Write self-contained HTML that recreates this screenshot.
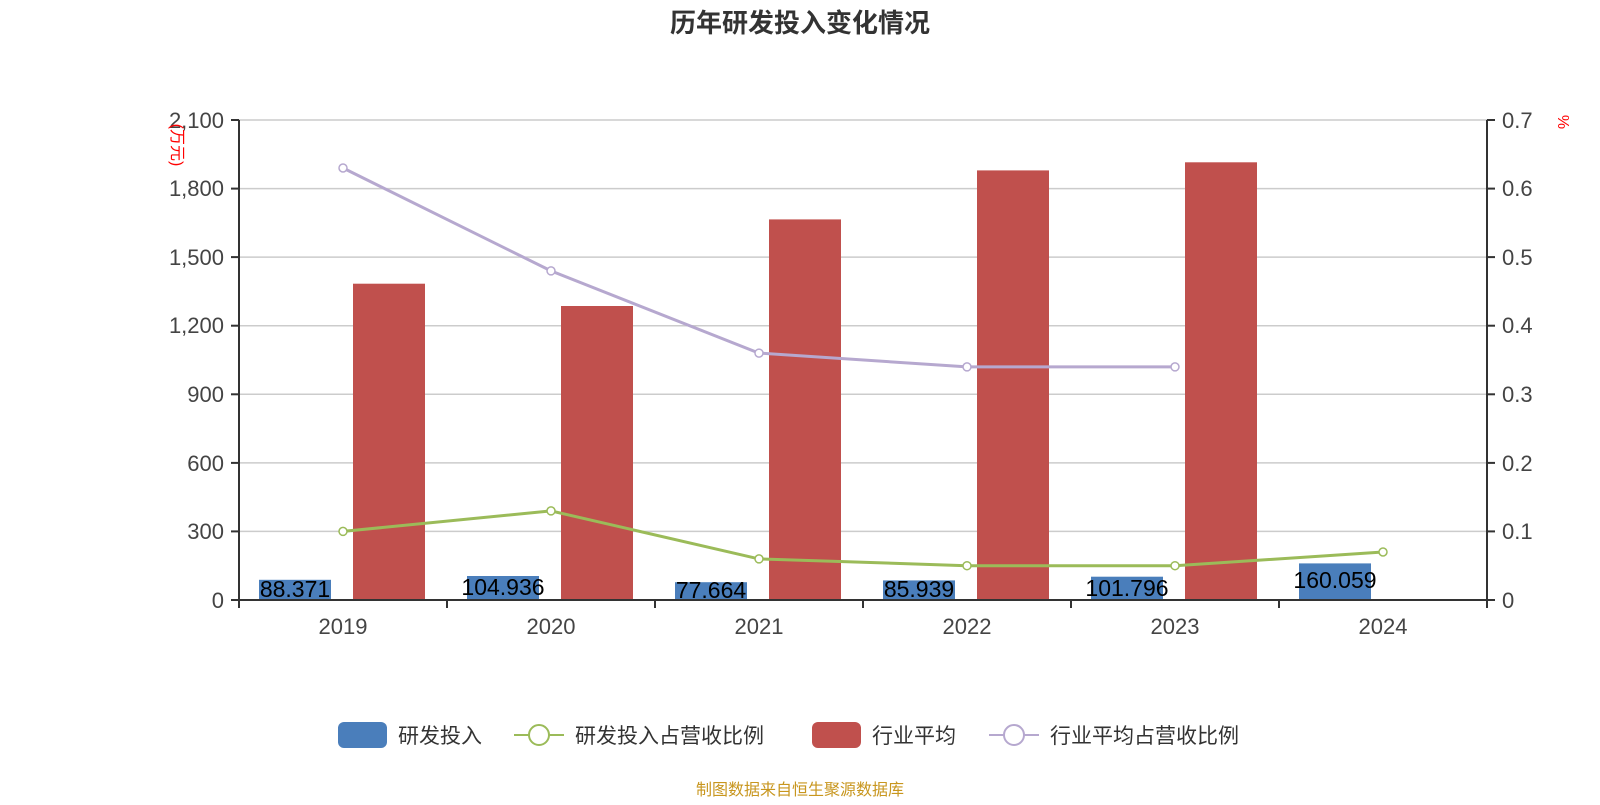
<!DOCTYPE html>
<html><head><meta charset="utf-8"><style>
body{margin:0;background:#fff;}
text{font-family:"Liberation Sans","Noto Sans CJK SC",sans-serif;}
</style></head><body>
<svg width="1600" height="800" xmlns="http://www.w3.org/2000/svg">
<text x="800" y="32" text-anchor="middle" font-size="26" font-weight="bold" fill="#333">历年研发投入变化情况</text>
<g stroke="#ccc" stroke-width="1.5">
<line x1="239" x2="1487" y1="120" y2="120"/><line x1="239" x2="1487" y1="188.6" y2="188.6"/>
<line x1="239" x2="1487" y1="257.1" y2="257.1"/><line x1="239" x2="1487" y1="325.7" y2="325.7"/>
<line x1="239" x2="1487" y1="394.3" y2="394.3"/><line x1="239" x2="1487" y1="462.9" y2="462.9"/>
<line x1="239" x2="1487" y1="531.4" y2="531.4"/>
</g>
<g fill="#4a7ebb">
<rect x="259" y="579.8" width="72" height="20.2"/>
<rect x="467" y="576" width="72" height="24"/>
<rect x="675" y="582.2" width="72" height="17.8"/>
<rect x="883" y="580.4" width="72" height="19.6"/>
<rect x="1091" y="576.7" width="72" height="23.3"/>
<rect x="1299" y="563.4" width="72" height="36.6"/>
</g>
<g fill="#c0504d">
<rect x="353" y="283.7" width="72" height="316.3"/>
<rect x="561" y="306" width="72" height="294"/>
<rect x="769" y="219.4" width="72" height="380.6"/>
<rect x="977" y="170.4" width="72" height="429.6"/>
<rect x="1185" y="162.3" width="72" height="437.7"/>
</g>
<g font-size="23" fill="#000" text-anchor="middle">
<text x="295" y="597">88.371</text><text x="503" y="595">104.936</text><text x="711" y="598">77.664</text>
<text x="919" y="597">85.939</text><text x="1127" y="596">101.796</text><text x="1335" y="588">160.059</text>
</g>
<polyline fill="none" stroke="#9bbb59" stroke-width="3" points="343,531.4 551,510.9 759,558.9 967,565.7 1175,565.7 1383,552"/>
<g fill="#fff" stroke="#9bbb59" stroke-width="1.5">
<circle cx="343" cy="531.4" r="4"/><circle cx="551" cy="510.9" r="4"/><circle cx="759" cy="558.9" r="4"/>
<circle cx="967" cy="565.7" r="4"/><circle cx="1175" cy="565.7" r="4"/><circle cx="1383" cy="552" r="4"/>
</g>
<polyline fill="none" stroke="#b6a8cf" stroke-width="3" points="343,168 551,270.9 759,353.1 967,366.9 1175,366.9"/>
<g fill="#fff" stroke="#b6a8cf" stroke-width="1.5">
<circle cx="343" cy="168" r="4"/><circle cx="551" cy="270.9" r="4"/><circle cx="759" cy="353.1" r="4"/>
<circle cx="967" cy="366.9" r="4"/><circle cx="1175" cy="366.9" r="4"/>
</g>
<g stroke="#333" stroke-width="2">
<line x1="239" x2="239" y1="120" y2="600"/><line x1="1487" x2="1487" y1="120" y2="600"/>
<line x1="239" x2="1487" y1="600" y2="600"/>
<line x1="231" x2="239" y1="120" y2="120"/><line x1="231" x2="239" y1="188.6" y2="188.6"/><line x1="231" x2="239" y1="257.1" y2="257.1"/><line x1="231" x2="239" y1="325.7" y2="325.7"/><line x1="231" x2="239" y1="394.3" y2="394.3"/><line x1="231" x2="239" y1="462.9" y2="462.9"/><line x1="231" x2="239" y1="531.4" y2="531.4"/><line x1="231" x2="239" y1="600" y2="600"/>
<line x1="1487" x2="1495" y1="120" y2="120"/><line x1="1487" x2="1495" y1="188.6" y2="188.6"/><line x1="1487" x2="1495" y1="257.1" y2="257.1"/><line x1="1487" x2="1495" y1="325.7" y2="325.7"/><line x1="1487" x2="1495" y1="394.3" y2="394.3"/><line x1="1487" x2="1495" y1="462.9" y2="462.9"/><line x1="1487" x2="1495" y1="531.4" y2="531.4"/><line x1="1487" x2="1495" y1="600" y2="600"/>
<line x1="239" x2="239" y1="600" y2="608"/><line x1="447" x2="447" y1="600" y2="608"/><line x1="655" x2="655" y1="600" y2="608"/><line x1="863" x2="863" y1="600" y2="608"/><line x1="1071" x2="1071" y1="600" y2="608"/><line x1="1279" x2="1279" y1="600" y2="608"/><line x1="1487" x2="1487" y1="600" y2="608"/>
</g>
<g font-size="22" fill="#444" text-anchor="end">
<text x="224" y="128">2,100</text><text x="224" y="196">1,800</text><text x="224" y="265">1,500</text><text x="224" y="333">1,200</text><text x="224" y="402">900</text><text x="224" y="471">600</text><text x="224" y="539">300</text><text x="224" y="608">0</text>
</g>
<g font-size="22" fill="#444">
<text x="1502" y="128">0.7</text><text x="1502" y="196">0.6</text><text x="1502" y="265">0.5</text><text x="1502" y="333">0.4</text><text x="1502" y="402">0.3</text><text x="1502" y="471">0.2</text><text x="1502" y="539">0.1</text><text x="1502" y="608">0</text>
</g>
<g font-size="22" fill="#444" text-anchor="middle">
<text x="343" y="634">2019</text><text x="551" y="634">2020</text><text x="759" y="634">2021</text><text x="967" y="634">2022</text><text x="1175" y="634">2023</text><text x="1383" y="634">2024</text>
</g>
<text transform="translate(172,145) rotate(90)" font-size="16" fill="#f00" text-anchor="middle">(万元)</text>
<text transform="translate(1558,122) rotate(90)" font-size="16" fill="#f00" text-anchor="middle">%</text>
<g font-size="21" fill="#333">
<rect x="338" y="722" width="49" height="26" rx="6" fill="#4a7ebb"/><text x="398" y="743">研发投入</text>
<line x1="514" x2="564" y1="735" y2="735" stroke="#9bbb59" stroke-width="2"/><circle cx="539" cy="735" r="10" fill="#fff" stroke="#9bbb59" stroke-width="2"/><text x="575" y="743">研发投入占营收比例</text>
<rect x="812" y="722" width="49" height="26" rx="6" fill="#c0504d"/><text x="872" y="743">行业平均</text>
<line x1="989" x2="1039" y1="735" y2="735" stroke="#b6a8cf" stroke-width="2"/><circle cx="1014" cy="735" r="10" fill="#fff" stroke="#b6a8cf" stroke-width="2"/><text x="1050" y="743">行业平均占营收比例</text>
</g>
<text x="800" y="795" text-anchor="middle" font-size="16" fill="#c8961e">制图数据来自恒生聚源数据库</text>
</svg>
</body></html>
